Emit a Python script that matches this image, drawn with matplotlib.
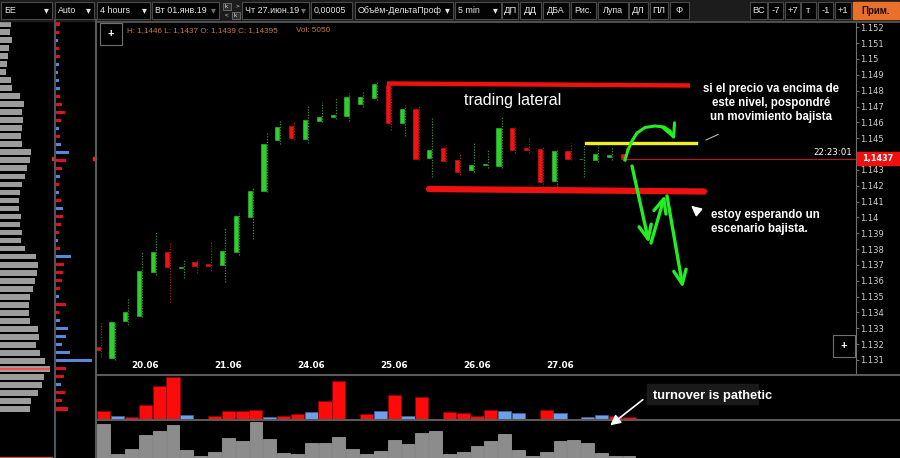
import numpy as np
import matplotlib.pyplot as plt
from matplotlib.patches import Rectangle
from matplotlib.transforms import blended_transform_factory

plt.rcParams['font.family'] = ['Liberation Sans', 'DejaVu Sans']

# 4h candles (one per slot, left to right)
opens = [1.1318, 1.1311, 1.13346, 1.1338, 1.13657, 1.13783, 1.1368, 1.1372, 1.13708, 1.1370,
         1.13783, 1.14004, 1.14167, 1.14489, 1.14577, 1.14497, 1.14607, 1.14632, 1.14642, 1.14716,
         1.14752, 1.14836, 1.14594, 1.14682, 1.14373, 1.14436, 1.14362, 1.1430, 1.1433, 1.14326,
         1.14566, 1.1444, 1.14434, 1.14232, 1.14419, 1.14366, 1.14362, 1.14384, 1.1440]
highs = [1.1334, 1.1334, 1.1349, 1.1378, 1.1391, 1.1384, 1.13735, 1.13735, 1.13845, 1.13931,
         1.1403, 1.1419, 1.14541, 1.14615, 1.1460, 1.14703, 1.1473, 1.14754, 1.14783, 1.1480,
         1.14857, 1.1485, 1.14709, 1.14709, 1.14632, 1.14457, 1.1440, 1.14478, 1.14425, 1.14636,
         1.14573, 1.14506, 1.14451, 1.14425, 1.14468, 1.14457, 1.14457, 1.14451, 1.1446]
lows = [1.1312, 1.1310, 1.1332, 1.1337, 1.13636, 1.13464, 1.13617, 1.1365, 1.1366, 1.13594,
        1.1376, 1.13863, 1.1416, 1.14463, 1.1449, 1.14471, 1.1460, 1.1462, 1.1461, 1.14699,
        1.1474, 1.14552, 1.14514, 1.14362, 1.14257, 1.14352, 1.14268, 1.14285, 1.1431, 1.1431,
        1.14405, 1.14405, 1.14194, 1.14194, 1.14362, 1.14257, 1.14352, 1.14362, 1.1436]
closes = [1.1316, 1.1334, 1.1340, 1.1366, 1.13783, 1.13685, 1.13686, 1.13695, 1.13695, 1.13788,
          1.14009, 1.14169, 1.14463, 1.14569, 1.14501, 1.14615, 1.14632, 1.14645, 1.14762, 1.14758,
          1.14842, 1.14594, 1.14682, 1.14369, 1.14425, 1.14358, 1.14288, 1.14331, 1.14337, 1.14566,
          1.14425, 1.14425, 1.14225, 1.14421, 1.14367, 1.1437, 1.1440, 1.14392, 1.1437]

# delta per bar (negative = red / sell, positive = blue / buy)
delta = [-25, 10, -7, -45, -102, -128, 13, -3, -10, -27, -27, -28, 7, -10, -16, 22, -55, -116, 2,
         -16, 25, -75, 10, -69, -3, -22, -21, -10, -28, 25, 20, -3, -28, 21, 2, 7, 15, -10, -7]
# volume per bar
volume = [100, 11, 25, 69, 80, 97, 23, 5, 16, 58, 49, 107, 55, 14, 11, 45, 44, 61, 26, 10,
          20, 52, 41, 75, 79, 10, 16, 35, 50, 71, 23, 4, 16, 51, 53, 44, 14, 5, 5]

dates = ['20.06', '21.06', '24.06', '25.06', '26.06', '27.06']
date_bar = [3, 9, 15, 21, 27, 33]

# left volume profile (top to bottom) and its delta profile
profile = [11, 10, 12, 9, 8, 7, 6, 11, 12, 20, 24, 22, 23, 22, 21, 22, 31, 30, 27, 25,
           22, 20, 19, 19, 21, 20, 22, 21, 25, 36, 38, 37, 35, 33, 30, 29, 29, 30, 38, 39,
           36, 40, 45, 50, 44, 42, 38, 31, 30]
profile_delta = [-4, -3, 2, -3, -4, 3, 2, 3, 4, -4, -6, -9, -5, 3, -4, 5, 13, -10, -6, 4,
                 -3, 3, -5, 7, -7, -5, -3, 2, -4, 15, -8, -7, -6, -4, 3, -10, -3, 4, 12, 10,
                 6, 14, 36, -10, -8, 5, -9, -6, -12]

price_ticks = np.round(np.arange(1.131, 1.1525, 0.001), 3)

W, H = 900, 458
BAR_PX = 13.82
fig = plt.figure(figsize=(9, 4.58), dpi=100, facecolor='black')


def fx(px):
    return px / W


def fy(py):
    return 1 - py / H


n = len(opens)
idx = np.arange(n)
o = np.array(opens)
c = np.array(closes)
up = c >= o
last = closes[-1]

# ---- price panel ----
ax = fig.add_axes([fx(97), fy(374), 759 / W, 352 / H])
ax.set_facecolor('black')
ax.set_xlim(-0.5, -0.5 + 759 / BAR_PX)
ax.set_ylim(1.130112, 1.152335)
for s in ['left', 'top', 'bottom']:
    ax.spines[s].set_visible(False)
ax.spines['right'].set_color('#707070')
ax.yaxis.tick_right()
ax.set_yticks(price_ticks)
# the tick under the last-price label is hidden, as on the terminal
ax.set_yticklabels(['' if abs(v - last) < 0.0005 else f'{v:.3f}'.rstrip('0') for v in price_ticks],
                   family='DejaVu Sans')
ax.tick_params(axis='y', colors='#707070', labelcolor='#cfcfcf', labelsize=6, length=2, pad=1)
ax.set_xticks([])

xc = idx - 0.45
body_col = np.where(up, '#2fcf2f', '#ee1414')
wick_col = np.where(up, '#3c8a3c', '#a02020')
ax.vlines(xc + 0.22, lows, highs, colors=wick_col, linestyles=(0, (1, 1.2)), lw=0.9)
ax.bar(xc, np.maximum(np.abs(c - o), 0.00004), bottom=np.minimum(o, c), width=0.3,
       color=body_col, edgecolor=body_col, lw=0.4)
ax.hlines(last, xc[-1], ax.get_xlim()[1], color='#c01818', lw=0.8)

tr = blended_transform_factory(ax.transData, ax.transAxes)
for k, d in zip(date_bar, dates):
    ax.text(k, 0.023, d, transform=tr, ha='center', va='center', color='white',
            fontsize=6.3, fontweight='bold', family='DejaVu Sans')

# ---- delta panel ----
dax = fig.add_axes([fx(97), fy(419.5), 803 / W, 44 / H])
dax.set_facecolor('black')
dax.set_xlim(-0.5, -0.5 + 803 / BAR_PX)
dax.set_ylim(0, 132)
dv = np.array(delta)
dax.bar(idx, np.abs(dv), width=0.95, color=np.where(dv < 0, '#ff0a0a', '#6f9fe8'),
        edgecolor=np.where(dv < 0, '#8a0000', '#3d5f9c'), lw=0.6)
dax.axis('off')

# ---- volume panel ----
vax = fig.add_axes([fx(97), fy(457.5), 803 / W, 36 / H])
vax.set_facecolor('black')
vax.set_xlim(-0.5, -0.5 + 803 / BAR_PX)
vax.set_ylim(0, 108)
vax.bar(idx, volume, width=0.93, color='#8c8c8c', edgecolor='#a6a6a6', lw=0.5)
vax.axis('off')

# ---- left profile ----
rows = np.arange(len(profile))
pa = fig.add_axes([0, fy(413), 53 / W, 393 / H])
pa.set_xlim(0, 53)
pa.set_ylim(len(profile) - 0.5, -0.5)
pa.barh(rows, profile, height=0.72, color='#9c9c9c')
poc = int(np.argmax(profile))
pa.barh(poc, profile[poc], height=0.2, color='#ff4a4a')
pa.axis('off')

pd_ = np.array(profile_delta)
dpa = fig.add_axes([fx(56), fy(413), 39 / W, 393 / H])
dpa.set_xlim(0, 39)
dpa.set_ylim(len(profile) - 0.5, -0.5)
dpa.barh(rows, np.abs(pd_), height=0.38, color=np.where(pd_ < 0, '#e01020', '#5a88d8'))
dpa.axis('off')

# ---- overlay in pixel coordinates: chrome + drawings ----
ov = fig.add_axes([0, 0, 1, 1], zorder=10)
ov.set_xlim(0, W)
ov.set_ylim(H, 0)
ov.axis('off')

# frame lines
ov.plot([54.5, 54.5], [20, 458], color='#4a5560', lw=1.5)
ov.plot([96, 96], [20, 458], color='#5a5a5a', lw=1.5)
ov.plot([96, 900], [21.5, 21.5], color='#5a5a5a', lw=1.2)
ov.plot([97, 900], [374.5, 374.5], color='#5a5a5a', lw=1.5)
ov.plot([97, 900], [420, 420], color='#5a5a5a', lw=1.5)
ov.plot([0, 52], [456.5, 456.5], color='#c06030', lw=1)

# toolbar
ov.add_patch(Rectangle((0, 0), W, 21, color='#1c1c1c'))
widgets = [('БЕ', 1, 52, 'w'), ('Auto', 55, 94, 'w'), ('4 hours', 97, 150, 'w'),
           ('Вт 01.янв.19', 152, 219, 'd'), ('Чт 27.июн.19', 242, 309, 'd'),
           ('0,00005', 311, 352, ''), ('Объём-ДельтаПроф', 355, 453, 'w'),
           ('5 min', 455, 501, 'w')]
for lab, x0, x1, arr in widgets:
    ov.add_patch(Rectangle((x0, 2), x1 - x0, 17, facecolor='#030303', edgecolor='#4a4a4a', lw=0.8))
    ov.text(x0 + 3, 10.5, lab, color='#e6e6e6', fontsize=6.4, va='center', ha='left')
    if arr:
        ov.text(x1 - 6, 10.5, '▾', color='#e6e6e6' if arr == 'w' else '#707070',
                fontsize=7, va='center', ha='center', family='DejaVu Sans')
buttons = [('ДП', 502, 518), ('ДД', 520, 541), ('ДБА', 543, 569), ('Рис.', 571, 596),
           ('Лупа', 598, 628), ('ДЛ', 629, 648), ('ПЛ', 650, 668), ('Ф', 670, 689),
           ('ВС', 750, 767), ('-7', 768, 783), ('+7', 785, 800), ('т', 801, 816),
           ('-1', 818, 833), ('+1', 835, 851)]
for lab, x0, x1 in buttons:
    ov.add_patch(Rectangle((x0, 2), x1 - x0, 17, facecolor='#030303', edgecolor='#4a4a4a', lw=0.8))
    ov.text((x0 + x1) / 2, 10.5, lab, color='#e6e6e6', fontsize=6.4 if len(lab) > 2 else 6.8,
            va='center', ha='center')
ov.add_patch(Rectangle((853, 2), 46, 17, facecolor='#e8702a', edgecolor='#e8702a'))
ov.text(876, 10.5, 'Прим.', color='#1a0a00', fontsize=7, fontweight='bold', ha='center', va='center')
# tiny k buttons
for (bx, by, lab, box) in [(222.5, 2.5, 'k', True), (233, 2.5, '>', False),
                           (222.5, 11.5, '<', False), (231.5, 11.5, 'k', True)]:
    if box:
        ov.add_patch(Rectangle((bx, by), 8, 7.5, facecolor='#303030', edgecolor='#707070', lw=0.6))
    ov.text(bx + 4, by + 3.8, lab, color='#e0e0e0', fontsize=4.5, ha='center', va='center')

# info line
ov.text(127, 30.5, 'H: 1,1446 L: 1,1437 O: 1,1439 C: 1,14395', color='#c87a40', fontsize=5.9,
        va='center')
ov.text(296, 30.5, 'Vol: 5050', color='#c87a40', fontsize=5.9, va='center')

# "+" boxes
for bx, by in [(99.5, 23), (833, 335)]:
    ov.add_patch(Rectangle((bx, by), 22, 21.5, facecolor='black', edgecolor='#707070', lw=0.8))
    ov.text(bx + 11, by + 11, '+', color='white', fontsize=8, ha='center', va='center',
            fontweight='bold')

# current price marker
py = H - ax.transData.transform((0, last))[1]
ov.add_patch(Rectangle((857, py - 7), 43, 13.5, color='#f01010'))
ov.text(878, py - 0.2, f'{last:.4f}'.replace('.', ','), color='white', fontsize=5.9,
        fontweight='bold', ha='center', va='center', family='DejaVu Sans')
ov.text(852, py - 6, '22:23:01', color='white', fontsize=6.2, ha='right', va='center',
        family='DejaVu Sans')
ov.add_patch(Rectangle((52, py - 1.5), 2.5, 3, color='#ff2020'))
ov.add_patch(Rectangle((93, py - 1.5), 2.5, 3, color='#ff2020'))

# drawings: levels
ov.plot([387, 690], [83.5, 85.5], color='#f01010', lw=3.2, solid_capstyle='butt')
ov.plot([429, 704], [189, 191.5], color='#f01010', lw=4.5, solid_capstyle='round')
ov.plot([586, 696], [143.3, 143.3], color='#f0f020', lw=2.4)

green = '#22ee22'
ov.plot([625, 628, 632, 637, 645, 655, 664, 670, 673],
        [160, 150, 141, 133, 127.5, 126, 127, 131, 136], color=green, lw=2.2)
ov.annotate('', xy=(676, 142.5), xytext=(672, 133), arrowprops=dict(
    arrowstyle='->,head_length=0.9,head_width=0.45', color=green, lw=2.2))
for (x0, y0), (x1, y1) in [((632, 166), (649, 243)), ((651, 243), (665, 195)),
                           ((667, 196), (683, 288))]:
    ov.annotate('', xy=(x1, y1), xytext=(x0, y0), arrowprops=dict(
        arrowstyle='->,head_length=1.0,head_width=0.45', color=green, lw=2.4,
        shrinkA=0, shrinkB=0))

# texts
ann = dict(color='white', family='Liberation Sans')
ov.text(513, 101, 'trading lateral', fontsize=11.5, ha='center', va='center', **ann)
ov.text(771, 103, 'si el precio va encima de\neste nivel, pospondré\nun movimiento bajista',
        fontsize=8.3, ha='center', va='center', linespacing=1.25, fontweight='bold', **ann)
ov.text(711, 222, 'estoy esperando un\nescenario bajista.', fontsize=8.3, ha='left',
        va='center', linespacing=1.25, fontweight='bold', **ann)
ov.annotate('', xy=(689, 204), xytext=(701, 214), arrowprops=dict(
    arrowstyle='-|>,head_length=0.6,head_width=0.3', color='white', lw=1.2))
ov.plot([706, 718], [140, 134.5], color='#cccccc', lw=0.7)

ov.add_patch(Rectangle((647, 384), 111, 20, color='#1a1a1a'))
ov.text(653, 396.5, 'turnover is pathetic', fontsize=9.3, ha='left', va='center',
        fontweight='bold', **ann)
ov.annotate('', xy=(608, 427), xytext=(645, 398), arrowprops=dict(
    arrowstyle='-|>,head_length=0.6,head_width=0.3', color='white', lw=1.2))

fig.savefig('out.png', dpi=100, facecolor='black')
